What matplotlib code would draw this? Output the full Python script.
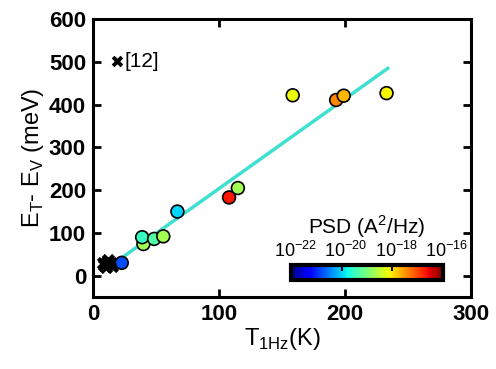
import numpy as np
import matplotlib
matplotlib.use('Agg')
from matplotlib import pyplot as plt
from matplotlib.colors import Normalize
from matplotlib.transforms import ScaledTranslation

plt.rcParams['font.family'] = ['Liberation Sans', 'DejaVu Sans']

# measured points: temperature (K), energy (meV), log10 PSD
t1hz = [22.8, 40, 39, 48.5, 55.8, 67, 108, 115, 158.5, 193, 199, 233]
energy = [30, 74, 90, 86, 92, 150, 183, 205, 422, 411, 421, 427]
log_psd = [-20.8, -18.7, -19.5, -19.3, -18.7, -20.0, -16.7, -18.7, -18.2, -17.4, -17.7, -18.1]

# points from ref [12]
ref_t = [9, 11, 13, 15, 10, 12, 14, 8]
ref_e = [25, 32, 28, 22, 20, 36, 30, 30]

# fit line
fit_t = [12, 234]
fit_e = [19, 485]

fig = plt.figure(figsize=(4.96, 3.69), dpi=100)
ax = fig.add_axes([0.1875, 0.195, 0.762, 0.753])

ax.plot(fit_t, fit_e, color='#40e0d0', lw=2.5, zorder=1)
ax.scatter(ref_t, ref_e, marker='x', color='k', s=55, linewidths=3, zorder=2)
norm = Normalize(-22, -16)
sc = ax.scatter(t1hz, energy, c=log_psd, cmap='jet', norm=norm, s=85,
                edgecolors='k', linewidths=1.2, zorder=3)

# legend-like annotation
ax.scatter([19], [502], marker='x', color='k', s=40, linewidths=2.8)
ax.text(25, 502, '[12]', fontsize=15, va='center', ha='left')

ax.set_xlim(0, 300)
ax.set_ylim(-50, 600)
ax.set_xticks([0, 100, 200, 300])
ax.set_yticks([0, 100, 200, 300, 400, 500, 600])
ax.tick_params(direction='in', length=6, width=2, top=True, right=True,
               labelsize=16, pad=5)
for lab in ax.get_xticklabels() + ax.get_yticklabels():
    lab.set_fontweight('bold')
for sp in ax.spines.values():
    sp.set_linewidth(2.2)

ax.set_xlabel('T$_{\\mathregular{1Hz}}$(K)', fontsize=17, labelpad=1)
ax.set_ylabel('E$_{\\mathregular{T}}$- E$_{\\mathregular{V}}$ (meV)', fontsize=17, labelpad=2)

# colorbar
cax = fig.add_axes([0.587, 0.241, 0.306, 0.041])
cb = fig.colorbar(sc, cax=cax, orientation='horizontal')
cb.set_ticks([-22, -20, -18, -16])
cb.set_ticklabels(['10$^{\\mathregular{-22}}$', '10$^{\\mathregular{-20}}$',
                   '10$^{\\mathregular{-18}}$', '10$^{\\mathregular{-16}}$'])
cax.xaxis.set_ticks_position('top')
cax.tick_params(direction='in', length=4, width=1.5, labelsize=13, pad=3)
shift = ScaledTranslation(4 / 100, 0, fig.dpi_scale_trans)
for lab in cax.get_xticklabels():
    lab.set_transform(lab.get_transform() + shift)
cb.outline.set_linewidth(3)
fig.text(0.74, 0.385, 'PSD (A$^{\\mathregular{2}}$/Hz)', fontsize=15,
         ha='center', va='center')

fig.savefig('out.png', dpi=100)
